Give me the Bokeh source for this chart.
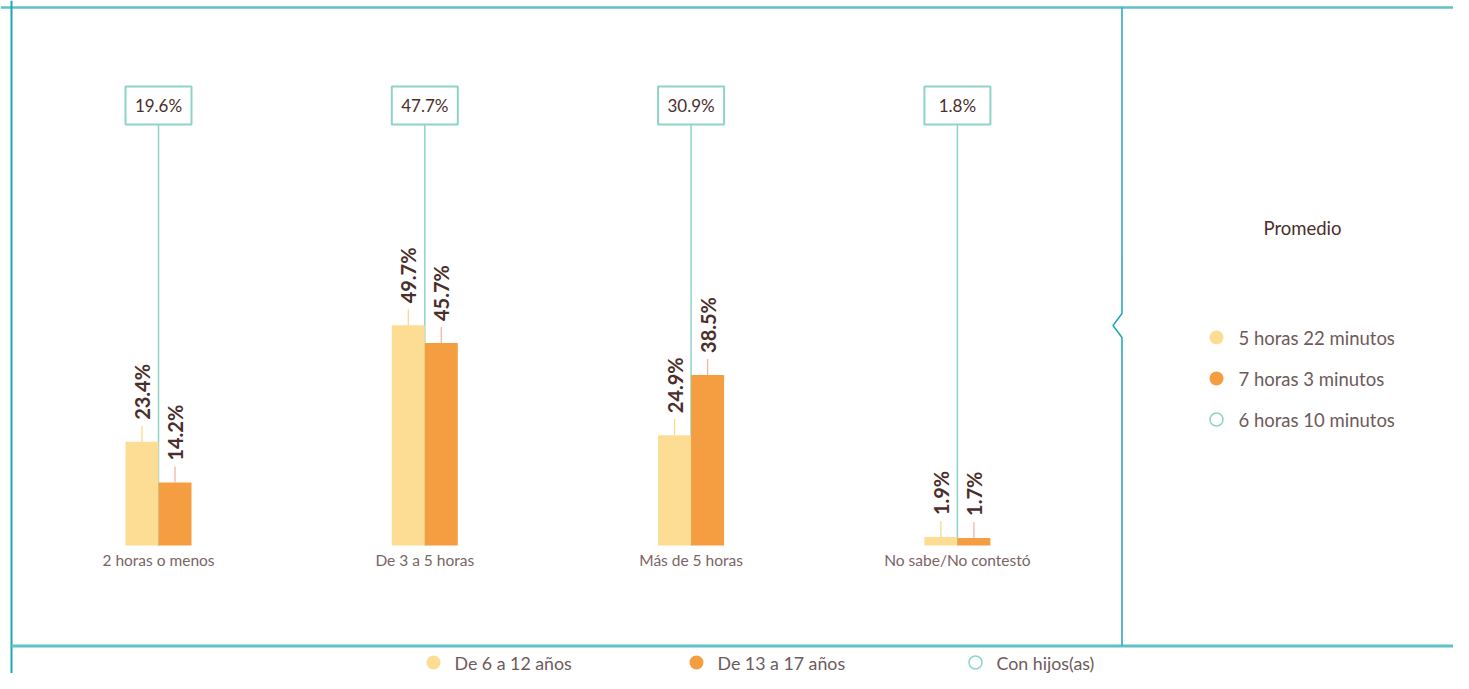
import math
from bokeh.plotting import figure
from bokeh.models import Range1d
from bokeh.core.properties import value
from bokeh.embed import file_html
from bokeh.resources import INLINE

# ---------------- data ----------------
categories = ["2 horas o menos", "De 3 a 5 horas", "Más de 5 horas", "No sabe/No contestó"]
series_names = ["De 6 a 12 años", "De 13 a 17 años", "Con hijos(as)"]
young = [23.4, 49.7, 24.9, 1.9]          # De 6 a 12 años
teen = [14.2, 45.7, 38.5, 1.7]           # De 13 a 17 años
with_children = [19.6, 47.7, 30.9, 1.8]  # Con hijos(as)
averages = ["5 horas 22 minutos", "7 horas 3 minutos", "6 horas 10 minutos"]
average_title = "Promedio"

# ---------------- style ----------------
YELLOW = "#fddc93"
ORANGE = "#f49d41"
TEAL = "#8fd3c8"
FRAME = "#1ea7b3"
FRAME_LIGHT = "#5ec2c8"
DARK = "#4b2e2b"
GREY = "#7a6464"
FONT = "Lato"

W, H = 1453, 673
X0 = -158 / 266.3
X1 = X0 + W / 266.3
Y0 = -128 / 4.43
Y1 = Y0 + H / 4.43

def sx(px):  # canvas pixel x -> data x (decorations only)
    return X0 + px / W * (X1 - X0)

def sy(py):  # canvas pixel y -> data y (decorations only)
    return Y1 - py / H * (Y1 - Y0)

p = figure(width=W, height=H, output_backend="svg", toolbar_location=None,
           x_range=Range1d(X0, X1), y_range=Range1d(Y0, Y1),
           x_axis_location=None, y_axis_location=None, min_border=0)
p.outline_line_color = None
p.grid.visible = False
p.background_fill_color = "white"
p.border_fill_color = "white"

# ---------------- frame decorations ----------------
p.line([sx(0), sx(W)], [sy(7), sy(7)], line_color=FRAME_LIGHT, line_width=2.5)
p.line([sx(11), sx(11)], [sy(0), sy(H)], line_color=FRAME, line_width=2)
p.line([sx(11), sx(W)], [sy(645.5), sy(645.5)], line_color=FRAME_LIGHT, line_width=3)
p.line([sx(1121.5)] * 2 + [sx(1112.5), sx(1121.5), sx(1121.5)],
       [sy(7), sy(313), sy(325), sy(337), sy(645)], line_color=FRAME, line_width=1.5)

n = len(categories)
xs = list(range(n))
bw = 33 / 266.3
dx = bw / 2

# ---------------- "Con hijos" lines and boxes ----------------
box_y = sy(105)
box_bottom = sy(124)
p.segment(x0=xs, y0=[0] * n, x1=xs, y1=[box_bottom] * n, line_color=TEAL, line_width=1.5)
p.rect(x=xs, y=[box_y] * n, width=66, height=38, width_units="screen", height_units="screen",
       fill_color="white", line_color=TEAL, line_width=2)
p.text(x=xs, y=[box_y] * n, text=[f"{v}%" for v in with_children],
       text_align="center", text_baseline="middle", text_font=value(FONT),
       text_font_size="17px", text_color=DARK)

# ---------------- bars ----------------
xa = [x - dx for x in xs]
xb = [x + dx for x in xs]
p.vbar(x=xa, top=young, width=bw, bottom=0, fill_color=YELLOW, line_color=None)
p.vbar(x=xb, top=teen, width=bw, bottom=0, fill_color=ORANGE, line_color=None)

lead = 16 / 4.43
p.segment(x0=xa, y0=young, x1=xa, y1=[v + lead for v in young], line_color="#fdd98a", line_width=1.3)
p.segment(x0=xb, y0=teen, x1=xb, y1=[v + lead for v in teen], line_color="#f5b3a8", line_width=1.3)

p.text(x=xa, y=young, text=[f"{v}%" for v in young], angle=math.pi / 2, y_offset=-22,
       text_align="left", text_baseline="middle", text_font=value(FONT),
       text_font_size="20px", text_font_style="bold", text_color=DARK)
p.text(x=xb, y=teen, text=[f"{v}%" for v in teen], angle=math.pi / 2, y_offset=-22,
       text_align="left", text_baseline="middle", text_font=value(FONT),
       text_font_size="20px", text_font_style="bold", text_color=DARK)

# category labels
p.text(x=xs, y=[0] * n, text=categories, y_offset=14, text_align="center",
       text_baseline="middle", text_font=value(FONT), text_font_size="15.5px", text_color=GREY)

# ---------------- right panel: averages ----------------
p.text(x=[sx(1302)], y=[sy(227)], text=[average_title], text_align="center",
       text_baseline="middle", text_font=value(FONT), text_font_size="18.5px", text_color=DARK)
leg_y = [sy(337), sy(378), sy(419)]
p.scatter(x=[sx(1216)] * 2, y=leg_y[:2], size=14, fill_color=[YELLOW, ORANGE], line_color=None)
p.scatter(x=[sx(1216)], y=leg_y[2:], size=13, fill_color="white", line_color=TEAL, line_width=1.5)
p.text(x=[sx(1238)] * 3, y=leg_y, text=averages, text_align="left", text_baseline="middle",
       text_font=value(FONT), text_font_size="18.5px", text_color="#6e5a5a")

# ---------------- bottom legend ----------------
bl_x = [433, 696, 975]
bl_y = sy(662)
p.scatter(x=[sx(bl_x[0]), sx(bl_x[1])], y=[bl_y] * 2, size=14, fill_color=[YELLOW, ORANGE], line_color=None)
p.scatter(x=[sx(bl_x[2])], y=[bl_y], size=13, fill_color="white", line_color=TEAL, line_width=1.5)
p.text(x=[sx(v + 21) for v in bl_x], y=[bl_y] * 3, text=series_names, text_align="left",
       text_baseline="middle", text_font=value(FONT), text_font_size="17.8px", text_color="#6e5a5a")

open("out.html", "w").write(file_html(p, INLINE))
